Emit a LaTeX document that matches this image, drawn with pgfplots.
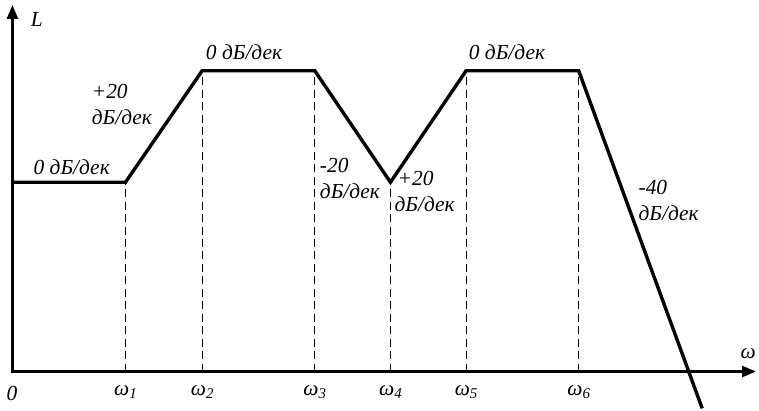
\documentclass[border=0pt]{standalone}
\usepackage{fontspec}
\setmainfont{Liberation Serif}
\usepackage{pgfplots}
\pgfplotsset{compat=1.18}
\usetikzlibrary{arrows.meta}
\tikzset{lbl/.style={font=\fontsize{21.5}{26}\selectfont\itshape}}
\newcommand{\sub}[1]{\raisebox{-3pt}{\fontsize{15}{15}\selectfont #1}}
\begin{document}
\begin{tikzpicture}
\begin{axis}[x=1pt,y=1pt,xmin=0,xmax=759,ymin=0,ymax=411,hide axis,clip=false]
% axes
\draw[line width=2.6pt,-{Triangle[length=14pt,width=11pt]}] (axis cs:12.5,38) -- (axis cs:12.5,406);
\draw[line width=2.6pt,-{Triangle[length=14pt,width=11pt]}] (axis cs:11.2,38) -- (axis cs:759,38);
% dashed
\addplot[black,line width=1.1pt,dash pattern=on 8pt off 4.5pt] coordinates {(126,38) (126,228)};
\addplot[black,line width=1.1pt,dash pattern=on 8pt off 4.5pt] coordinates {(203,38) (203,340)};
\addplot[black,line width=1.1pt,dash pattern=on 8pt off 4.5pt] coordinates {(316,38) (316,340)};
\addplot[black,line width=1.1pt,dash pattern=on 8pt off 4.5pt] coordinates {(392,38) (392,228)};
\addplot[black,line width=1.1pt,dash pattern=on 8pt off 4.5pt] coordinates {(468,38) (468,340)};
\addplot[black,line width=1.1pt,dash pattern=on 8pt off 4.5pt] coordinates {(581,38) (581,340)};
% LAFC
\addplot[black,line width=3.4pt,line join=miter] coordinates {(12.5,228) (126,228) (203,340) (316,340) (392,228) (468,340) (581,340) (705,1)};
% labels
\node[lbl] at (axis cs:37,391) {L};
\node[lbl,anchor=west] at (axis cs:740,56) {ω};
\node[lbl] at (axis cs:12,16) {0};
\node[lbl] at (axis cs:126,17) {ω\sub{1}};
\node[lbl] at (axis cs:203,17) {ω\sub{2}};
\node[lbl] at (axis cs:316,17) {ω\sub{3}};
\node[lbl] at (axis cs:392,17) {ω\sub{4}};
\node[lbl] at (axis cs:468,17) {ω\sub{5}};
\node[lbl] at (axis cs:581,17) {ω\sub{6}};
\node[lbl] at (axis cs:72,243) {0 дБ/дек};
\node[lbl] at (axis cs:245,359) {0 дБ/дек};
\node[lbl] at (axis cs:509,359) {0 дБ/дек};
\node[lbl,anchor=west,align=left,inner sep=0pt] at (axis cs:92,306) {+20\\дБ/дек};
\node[lbl,anchor=west,align=left,inner sep=0pt] at (axis cs:321,232) {-20\\дБ/дек};
\node[lbl,anchor=west,align=left,inner sep=0pt] at (axis cs:396,219) {\hspace*{3pt}+20\\дБ/дек};
\node[lbl,anchor=west,align=left,inner sep=0pt] at (axis cs:641,210) {-40\\дБ/дек};
\end{axis}
\useasboundingbox (0,0) rectangle (759pt,411pt);
\end{tikzpicture}
\end{document}
